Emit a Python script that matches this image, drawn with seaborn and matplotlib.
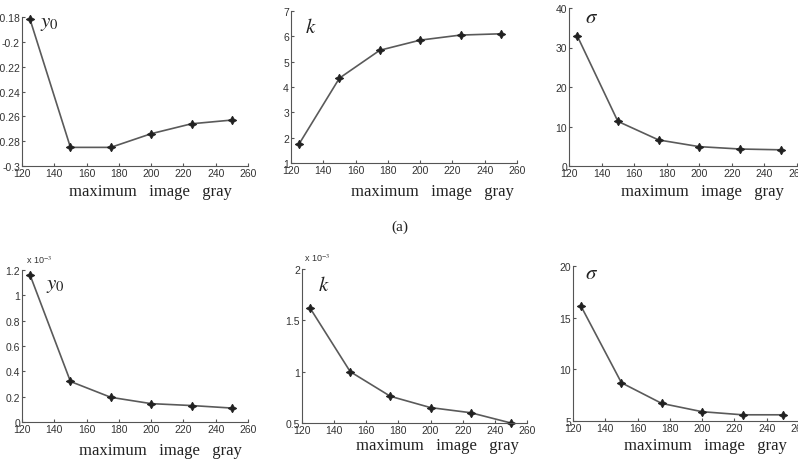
import seaborn as sns
import pandas as pd
import matplotlib.pyplot as plt

sns.set_style("ticks")
plt.rcParams['font.family'] = ['Liberation Sans', 'DejaVu Sans']
plt.rcParams['mathtext.fontset'] = 'stix'

# data
gray = [125, 150, 175, 200, 225, 250]
y0_a = [-0.182, -0.285, -0.285, -0.274, -0.266, -0.263]
k_a = [1.75, 4.35, 5.45, 5.85, 6.05, 6.1]
sigma_a = [33, 11.3, 6.6, 4.9, 4.3, 4.1]
y0_b = [1.16, 0.32, 0.195, 0.145, 0.13, 0.11]   # x 10^-3
k_b = [1.62, 1.0, 0.76, 0.65, 0.6, 0.5]         # x 10^-3
sigma_b = [16.1, 8.7, 6.7, 5.9, 5.6, 5.6]

W, H = 798, 464
fig = plt.figure(figsize=(W / 100, H / 100), dpi=100)


def px_axes(x0, x1, ytop, ybot):
    return fig.add_axes([x0 / W, 1 - ybot / H, (x1 - x0) / W, (ybot - ytop) / H])


def ftext(x, y, s, **kw):
    fig.text(x / W, 1 - y / H, s, **kw)


panels = [
    # values, axes box, ylim, yticks, ticklabels, symbol pos, xlabel pos
    (y0_a, (22, 248, 18, 167), (-0.3, -0.18), [-0.3, -0.28, -0.26, -0.24, -0.22, -0.2, -0.18],
     ['-0.3', '-0.28', '-0.26', '-0.24', '-0.22', '-0.2', '-0.18'], ('$y_0$', 40, 14), (150, 192)),
    (k_a, (291, 517, 12, 164), (1, 7), [1, 2, 3, 4, 5, 6, 7],
     None, ('$k$', 305, 18), (432, 192)),
    (sigma_a, (569, 797, 9, 167), (0, 40), [0, 10, 20, 30, 40],
     None, (r'$\sigma$', 585, 8), (702, 192)),
    (y0_b, (22, 248, 271, 423), (0, 1.2), [0, 0.2, 0.4, 0.6, 0.8, 1, 1.2],
     ['0', '0.2', '0.4', '0.6', '0.8', '1', '1.2'], ('$y_0$', 46, 276), (160, 451)),
    (k_b, (302, 527, 270, 424), (0.5, 2), [0.5, 1, 1.5, 2],
     ['0.5', '1', '1.5', '2'], ('$k$', 318, 276), (437, 446)),
    (sigma_b, (573, 799, 267, 422), (5, 20), [5, 10, 15, 20],
     None, (r'$\sigma$', 585, 264), (705, 446)),
]

for i, (vals, box, ylim, yt, ytl, sym, xl) in enumerate(panels):
    ax = px_axes(*box)
    df = pd.DataFrame({'gray': gray, 'v': vals})
    sns.lineplot(data=df, x='gray', y='v', ax=ax, color='#5a5a5a', lw=1.2,
                 marker=(4, 1, 0), markersize=6, markerfacecolor='#222222',
                 markeredgecolor='#222222', clip_on=False)
    ax.set_xlim(120, 260)
    ax.set_ylim(*ylim)
    ax.set_xticks(range(120, 261, 20))
    ax.set_yticks(yt)
    if ytl is not None:
        ax.set_yticklabels(ytl)
    ax.set_xlabel('')
    ax.set_ylabel('')
    sns.despine(ax=ax)
    for s in ['left', 'bottom']:
        ax.spines[s].set_color('#555555')
        ax.spines[s].set_linewidth(0.8)
    ax.tick_params(direction='in', length=2.5, labelsize=7.5, colors='#555555',
                   labelcolor='#333333', pad=1.5)
    ftext(sym[1], sym[2], sym[0], fontsize=15, style='italic', va='top',
          ha='left', color='#222222')
    ftext(xl[0], xl[1], 'maximum   image   gray', fontsize=12,
          family='Liberation Serif', ha='center', va='center', color='#222222')

ftext(26, 260, r'x 10$^{-3}$', fontsize=6.5, color='#333333', va='center')
ftext(304, 258, r'x 10$^{-3}$', fontsize=6.5, color='#333333', va='center')
ftext(400, 227, '(a)', fontsize=11, family='Liberation Serif', ha='center',
      va='center', color='#222222')

fig.savefig('out.png', dpi=100)
